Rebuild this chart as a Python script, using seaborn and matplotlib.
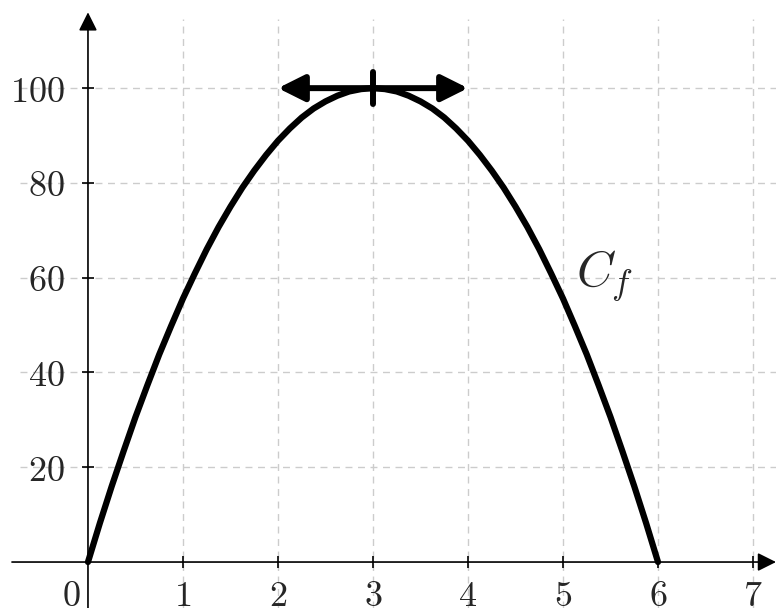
import pandas as pd
import matplotlib
matplotlib.use("Agg")
import matplotlib.pyplot as plt
import seaborn as sns

# curve C_f (x, y)
x_vals = [0, 0.125, 0.25, 0.375, 0.5, 0.625, 0.75, 0.875, 1, 1.125, 1.25, 1.375,
          1.5, 1.625, 1.75, 1.875, 2, 2.125, 2.25, 2.375, 2.5, 2.625, 2.75, 2.875,
          3, 3.125, 3.25, 3.375, 3.5, 3.625, 3.75, 3.875, 4, 4.125, 4.25, 4.375,
          4.5, 4.625, 4.75, 4.875, 5, 5.125, 5.25, 5.375, 5.5, 5.625, 5.75, 5.875, 6]
y_vals = [0, 8.2, 16, 23.4, 30.6, 37.3, 43.8, 49.8, 55.6, 60.9, 66, 70.7,
          75, 79, 82.6, 85.9, 88.9, 91.5, 93.8, 95.7, 97.2, 98.4, 99.3, 99.8,
          100, 99.8, 99.3, 98.4, 97.2, 95.7, 93.8, 91.5, 88.9, 85.9, 82.6, 79,
          75, 70.7, 66, 60.9, 55.6, 49.8, 43.8, 37.3, 30.6, 23.4, 16, 8.2, 0]

x_ticks = [1, 2, 3, 4, 5, 6, 7]
y_ticks = [20, 40, 60, 80, 100]

# tangent at the top
tan_x = [2, 4]
tan_y = 100
top_x = 3

df = pd.DataFrame({"x": x_vals, "y": y_vals})

sns.set_style("white")
plt.rcParams["mathtext.fontset"] = "cm"

fig = plt.figure(figsize=(7.76, 6.08), dpi=100)
ax = fig.add_axes([0, 0, 1, 1])
ax.set_xlim(-0.926, 7.242)
ax.set_ylim(-9.7, 118.6)

# dashed grid
ax.hlines(y_ticks, -0.72, 7.242, colors="#cccccc", linestyles=(0, (5, 4)), lw=1, zorder=0)
ax.vlines(x_ticks, -9.7, 114.5, colors="#cccccc", linestyles=(0, (5, 4)), lw=1, zorder=0)

# axes with arrows
for s in ax.spines.values():
    s.set_visible(False)
ax.spines["left"].set_position(("data", 0))
ax.spines["bottom"].set_position(("data", 0))
ax.annotate("", xy=(7.242, 0), xytext=(-0.8, 0),
            arrowprops=dict(arrowstyle="-|>", color="black", lw=1.2, mutation_scale=28,
                            shrinkA=0, shrinkB=0))
ax.annotate("", xy=(0, 116), xytext=(0, -9.7),
            arrowprops=dict(arrowstyle="-|>", color="black", lw=1.2, mutation_scale=28,
                            shrinkA=0, shrinkB=0))

ax.set_xticks(x_ticks)
ax.set_yticks(y_ticks)
ax.set_xticklabels([f"${v}$" for v in x_ticks])
ax.set_yticklabels([f"${v}$" for v in y_ticks])
ax.tick_params(direction="inout", length=9, width=1.2, color="black",
               labelsize=26, bottom=True, left=True)
ax.tick_params(axis="x", pad=8)
ax.tick_params(axis="y", pad=12)
ax.text(-0.18, -3.6, "$0$", fontsize=26, ha="center", va="top")

# the curve
sns.lineplot(data=df, x="x", y="y", ax=ax, color="black", lw=4.5,
             solid_capstyle="round", solid_joinstyle="round", zorder=3)

# tangent arrow at the maximum
ax.annotate("", xy=(tan_x[1], tan_y), xytext=(tan_x[0], tan_y),
            arrowprops=dict(arrowstyle="<|-|>", color="black", lw=4.3, mutation_scale=40,
                            shrinkA=0, shrinkB=0), zorder=4)
ax.plot([top_x, top_x], [96.6, 103.4], color="black", lw=4.3, solid_capstyle="round", zorder=4)

ax.text(5.44, 60.5, "$C_f$", fontsize=36, ha="center", va="center")
ax.set_xlabel("")
ax.set_ylabel("")

fig.savefig("out.png", dpi=100)
